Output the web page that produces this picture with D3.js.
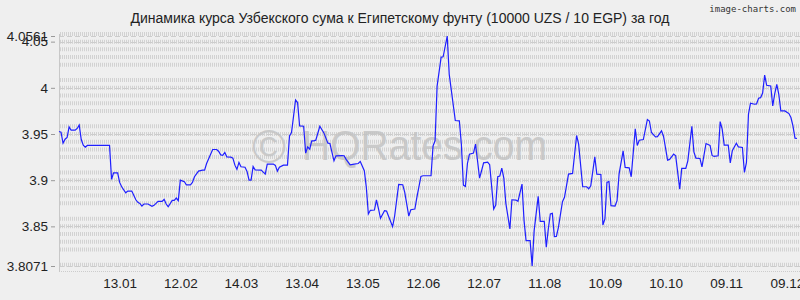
<!DOCTYPE html>
<html>
<head>
<meta charset="utf-8">
<script src="https://cdn.jsdelivr.net/npm/d3@7"></script>
<style>
  body { margin: 0; background: #efefef; }
  svg { display: block; }
</style>
</head>
<body>
<div id="chart" style="width:800px;height:300px"></div>
<script>
// chart texts
const title = "Динамика курса Узбекского сума к Египетскому фунту (10000 UZS / 10 EGP) за год";
const credit = "image-charts.com";
const watermark = "HQRates.com";

// first day of the period, other points are days after it
const startDate = "2022-12-14";
const endDate = "2023-12-14";

const dayOffsets = [
    0, 1, 2, 3, 4, 5, 6, 8, 9, 10, 11, 12, 13, 14, 25, 26, 27, 29, 30, 31,
    33, 34, 36, 38, 39, 40, 41, 42, 44, 46, 47, 49, 51, 52, 53, 54, 56, 57, 58, 59,
    60, 62, 63, 65, 66, 67, 69, 71, 72, 73, 76, 78, 79, 80, 81, 82, 83, 85, 86, 87,
    88, 89, 90, 92, 93, 94, 95, 96, 97, 100, 102, 103, 106, 107, 108, 109, 111, 113, 114, 115,
    117, 118, 119, 121, 122, 123, 124, 125, 126, 127, 129, 131, 133, 134, 136, 137, 140, 141, 142, 144,
    146, 148, 149, 151, 152, 153, 154, 156, 157, 158, 159, 161, 162, 163, 165, 166, 168, 170, 171, 173,
    174, 176, 177, 179, 180, 184, 185, 186, 187, 189, 190, 192, 193, 196, 198, 199, 200, 201, 202, 203,
    205, 206, 207, 208, 209, 210, 212, 213, 215, 216, 217, 218, 219, 220, 221, 223, 224, 226, 227, 229,
    230, 231, 233, 234, 235, 237, 238, 240, 241, 242, 243, 244, 245, 246, 247, 249, 250, 252, 254, 256,
    257, 259, 261, 262, 263, 265, 266, 268, 269, 270, 271, 272, 273, 275, 276, 277, 279, 280, 282, 283,
    285, 286, 287, 289, 291, 292, 293, 295, 296, 298, 299, 301, 302, 304, 305, 307, 308, 310, 311, 313,
    314, 315, 317, 318, 320, 322, 323, 324, 326, 327, 328, 329, 331, 332, 333, 335, 336, 338, 339, 340,
    341, 342, 344, 345, 346, 347, 348, 349, 350, 352, 353, 354, 355, 356, 357, 359, 361, 362, 363, 364,
    365
];

const rates = [
    3.9527, 3.9520, 3.9400, 3.9444, 3.9462, 3.9577, 3.9541, 3.9541, 3.9560, 3.9598, 3.9440, 3.9379, 3.9357, 3.9376, 3.9376, 3.9009, 3.9080, 3.9080, 3.8976, 3.8929,
    3.8864, 3.8882, 3.8882, 3.8788, 3.8760, 3.8749, 3.8720, 3.8742, 3.8742, 3.8717, 3.8728, 3.8771, 3.8771, 3.8793, 3.8742, 3.8713, 3.8782, 3.8782, 3.8807, 3.8778,
    3.9001, 3.8983, 3.8950, 3.8950, 3.8976, 3.9037, 3.9098, 3.9109, 3.9109, 3.9181, 3.9332, 3.9332, 3.9311, 3.9274, 3.9270, 3.9300, 3.9253, 3.9250, 3.9239, 3.9163,
    3.9117, 3.9192, 3.9145, 3.9140, 3.9095, 3.9001, 3.9001, 3.9149, 3.9112, 3.9109, 3.9066, 3.9174, 3.9174, 3.9160, 3.9098, 3.9141, 3.9163, 3.9163, 3.9480, 3.9516,
    3.9868, 3.9840, 3.9588, 3.9584, 3.9293, 3.9360, 3.9336, 3.9426, 3.9426, 3.9433, 3.9584, 3.9512, 3.9401, 3.9397, 3.9210, 3.9264, 3.9267, 3.9264, 3.9225, 3.9167,
    3.9174, 3.9181, 3.9203, 3.9102, 3.8922, 3.8634, 3.8674, 3.8677, 3.8788, 3.8691, 3.8587, 3.8670, 3.8666, 3.8609, 3.8497, 3.8612, 3.8955, 3.8951, 3.8868, 3.8612,
    3.8680, 3.8688, 3.8814, 3.9041, 3.9048, 3.9048, 3.9372, 3.9426, 4.0019, 4.0333, 4.0336, 4.0561, 4.0146, 3.9646, 3.9643, 3.9390, 3.8947, 3.8933, 3.9181, 3.9282,
    3.9293, 3.9390, 3.9210, 3.9023, 3.9102, 3.9188, 3.9196, 3.9167, 3.8688, 3.8731, 3.9037, 3.9044, 3.9131, 3.9023, 3.8749, 3.8472, 3.8788, 3.8785, 3.8771, 3.8958,
    3.8562, 3.8346, 3.8346, 3.8071, 3.8454, 3.8825, 3.8555, 3.8555, 3.8274, 3.8472, 3.8634, 3.8641, 3.8389, 3.8392, 3.8490, 3.8767, 3.8814, 3.9066, 3.9073, 3.9484,
    3.9390, 3.8929, 3.8929, 3.8907, 3.8940, 3.9253, 3.9066, 3.9062, 3.8515, 3.8580, 3.8976, 3.8987, 3.8724, 3.8720, 3.8778, 3.9066, 3.9318, 3.9138, 3.9134, 3.9037,
    3.9555, 3.9376, 3.9433, 3.9440, 3.9657, 3.9641, 3.9516, 3.9469, 3.9472, 3.9534, 3.9473, 3.9217, 3.9225, 3.9282, 3.9264, 3.8904, 3.9127, 3.9127, 3.9210, 3.9584,
    3.9307, 3.9239, 3.9235, 3.9145, 3.9397, 3.9376, 3.9268, 3.9257, 3.9264, 3.9635, 3.9552, 3.9379, 3.9379, 3.9188, 3.9318, 3.9401, 3.9361, 3.9354, 3.9084, 3.9192,
    3.9714, 3.9833, 3.9822, 3.9826, 3.9887, 3.9893, 3.9944, 4.0138, 4.0027, 4.0020, 3.9803, 3.9937, 4.0038, 3.9930, 3.9750, 3.9750, 3.9721, 3.9678, 3.9588, 3.9455,
    3.9451
];

// axis ticks
const yTicks = [4.0561, 4.05, 4, 3.95, 3.9, 3.85, 3.8071];
const xTickDates = ["2023-01-13", "2023-02-12", "2023-03-14", "2023-04-13", "2023-05-13", "2023-06-12",
    "2023-07-12", "2023-08-11", "2023-09-10", "2023-10-10", "2023-11-09", "2023-12-09"];

function drawChart(containerId) {
    const container = document.getElementById(containerId);
    const width = 800, height = 300;
    const margin = { top: 36, right: 3, bottom: 34, left: 59 };

    const parseDate = d3.utcParse("%Y-%m-%d");
    const start = parseDate(startDate);

    // join days and rates into points
    const data = dayOffsets.map((d, i) => ({
        date: d3.utcDay.offset(start, d),
        rate: rates[i]
    }));

    // x scale, one year
    const x = d3.scaleUtc()
                .domain([start, parseDate(endDate)])
                .range([margin.left, width - margin.right]);

    // y scale from min to max
    const y = d3.scaleLinear()
                .domain([d3.min(yTicks), d3.max(yTicks)])
                .range([height - margin.bottom, margin.top]);

    const svg = d3.create("svg")
                  .attr("width", width)
                  .attr("height", height)
                  .style("font-family", "'Liberation Sans', Arial, sans-serif");

    svg.append("rect")
       .attr("width", width)
       .attr("height", height)
       .attr("fill", "#efefef");

    // minor grid rows between the round ticks
    const step = 0.05 / 6;
    const minor = d3.range(-5, 26).map(k => 3.85 + k * step).filter((v, i) => (i + 5) % 6 !== 0);
    svg.append("g")
       .selectAll("line")
       .data(minor)
       .join("line")
       .attr("x1", margin.left + 1)
       .attr("x2", width)
       .attr("y1", d => y(d))
       .attr("y2", d => y(d))
       .attr("stroke", "#d2d2d2")
       .attr("stroke-width", 4)
       .attr("stroke-dasharray", "1,1");

    // major dashed grid lines
    svg.append("g")
       .selectAll("line")
       .data(yTicks)
       .join("line")
       .attr("x1", margin.left)
       .attr("x2", width)
       .attr("y1", d => Math.round(y(d)) + 0.5)
       .attr("y2", d => Math.round(y(d)) + 0.5)
       .attr("stroke", "#cccccc")
       .attr("stroke-dasharray", "5,3");

    // bottom dotted line and left edge
    svg.append("line")
       .attr("x1", margin.left)
       .attr("x2", width)
       .attr("y1", height - margin.bottom + 5.5)
       .attr("y2", height - margin.bottom + 5.5)
       .attr("stroke", "#cccccc")
       .attr("stroke-dasharray", "1,1");

    svg.append("line")
       .attr("x1", margin.left + 0.5)
       .attr("x2", margin.left + 0.5)
       .attr("y1", margin.top - 2)
       .attr("y2", height - margin.bottom + 6)
       .attr("stroke", "#c8c8c8");

    // watermark
    const wm = svg.append("g").attr("fill", "#c2c2c2").attr("opacity", 0.8);
    wm.append("text")
      .attr("x", 252)
      .attr("y", 163)
      .style("font-size", "46px")
      .text("©");
    wm.append("text")
      .attr("x", 302)
      .attr("y", 160)
      .attr("textLength", 245)
      .attr("lengthAdjust", "spacingAndGlyphs")
      .style("font-size", "42px")
      .text(watermark);

    // y axis
    svg.append("g")
       .attr("transform", `translate(${margin.left - 4},0)`)
       .call(d3.axisLeft(y).tickValues(yTicks).tickFormat(d => String(d)).tickSize(4).tickPadding(3))
       .call(g => g.select(".domain").remove())
       .call(g => g.selectAll(".tick line").attr("stroke", "#999"))
       .call(g => g.selectAll("text").attr("fill", "#222").style("font-size", "13.5px")
                    .style("font-family", "'Liberation Sans', Arial, sans-serif"));

    // x axis
    svg.append("g")
       .attr("transform", `translate(0,${height - margin.bottom + 6})`)
       .call(d3.axisBottom(x).tickValues(xTickDates.map(parseDate)).tickFormat(d3.utcFormat("%d.%m")).tickSize(0).tickPadding(6))
       .call(g => g.select(".domain").remove())
       .call(g => g.selectAll("text").attr("fill", "#222").style("font-size", "13.5px")
                    .style("font-family", "'Liberation Sans', Arial, sans-serif"));

    // rate line
    const line = d3.line()
                   .x(d => x(d.date))
                   .y(d => y(d.rate));

    svg.append("path")
       .datum(data)
       .attr("d", line)
       .attr("fill", "none")
       .attr("stroke", "#1f1fff")
       .attr("stroke-width", 1.2);

    // title
    svg.append("text")
       .attr("x", width / 2)
       .attr("y", 23)
       .attr("text-anchor", "middle")
       .attr("fill", "#222")
       .style("font-size", "14px")
       .text(title);

    svg.append("text")
       .attr("x", 796)
       .attr("y", 12)
       .attr("text-anchor", "end")
       .attr("fill", "#333")
       .style("font-family", "'DejaVu Sans Mono', monospace")
       .style("font-size", "9px")
       .text(credit);

    container.appendChild(svg.node());
}

drawChart("chart");
</script>
</body>
</html>
